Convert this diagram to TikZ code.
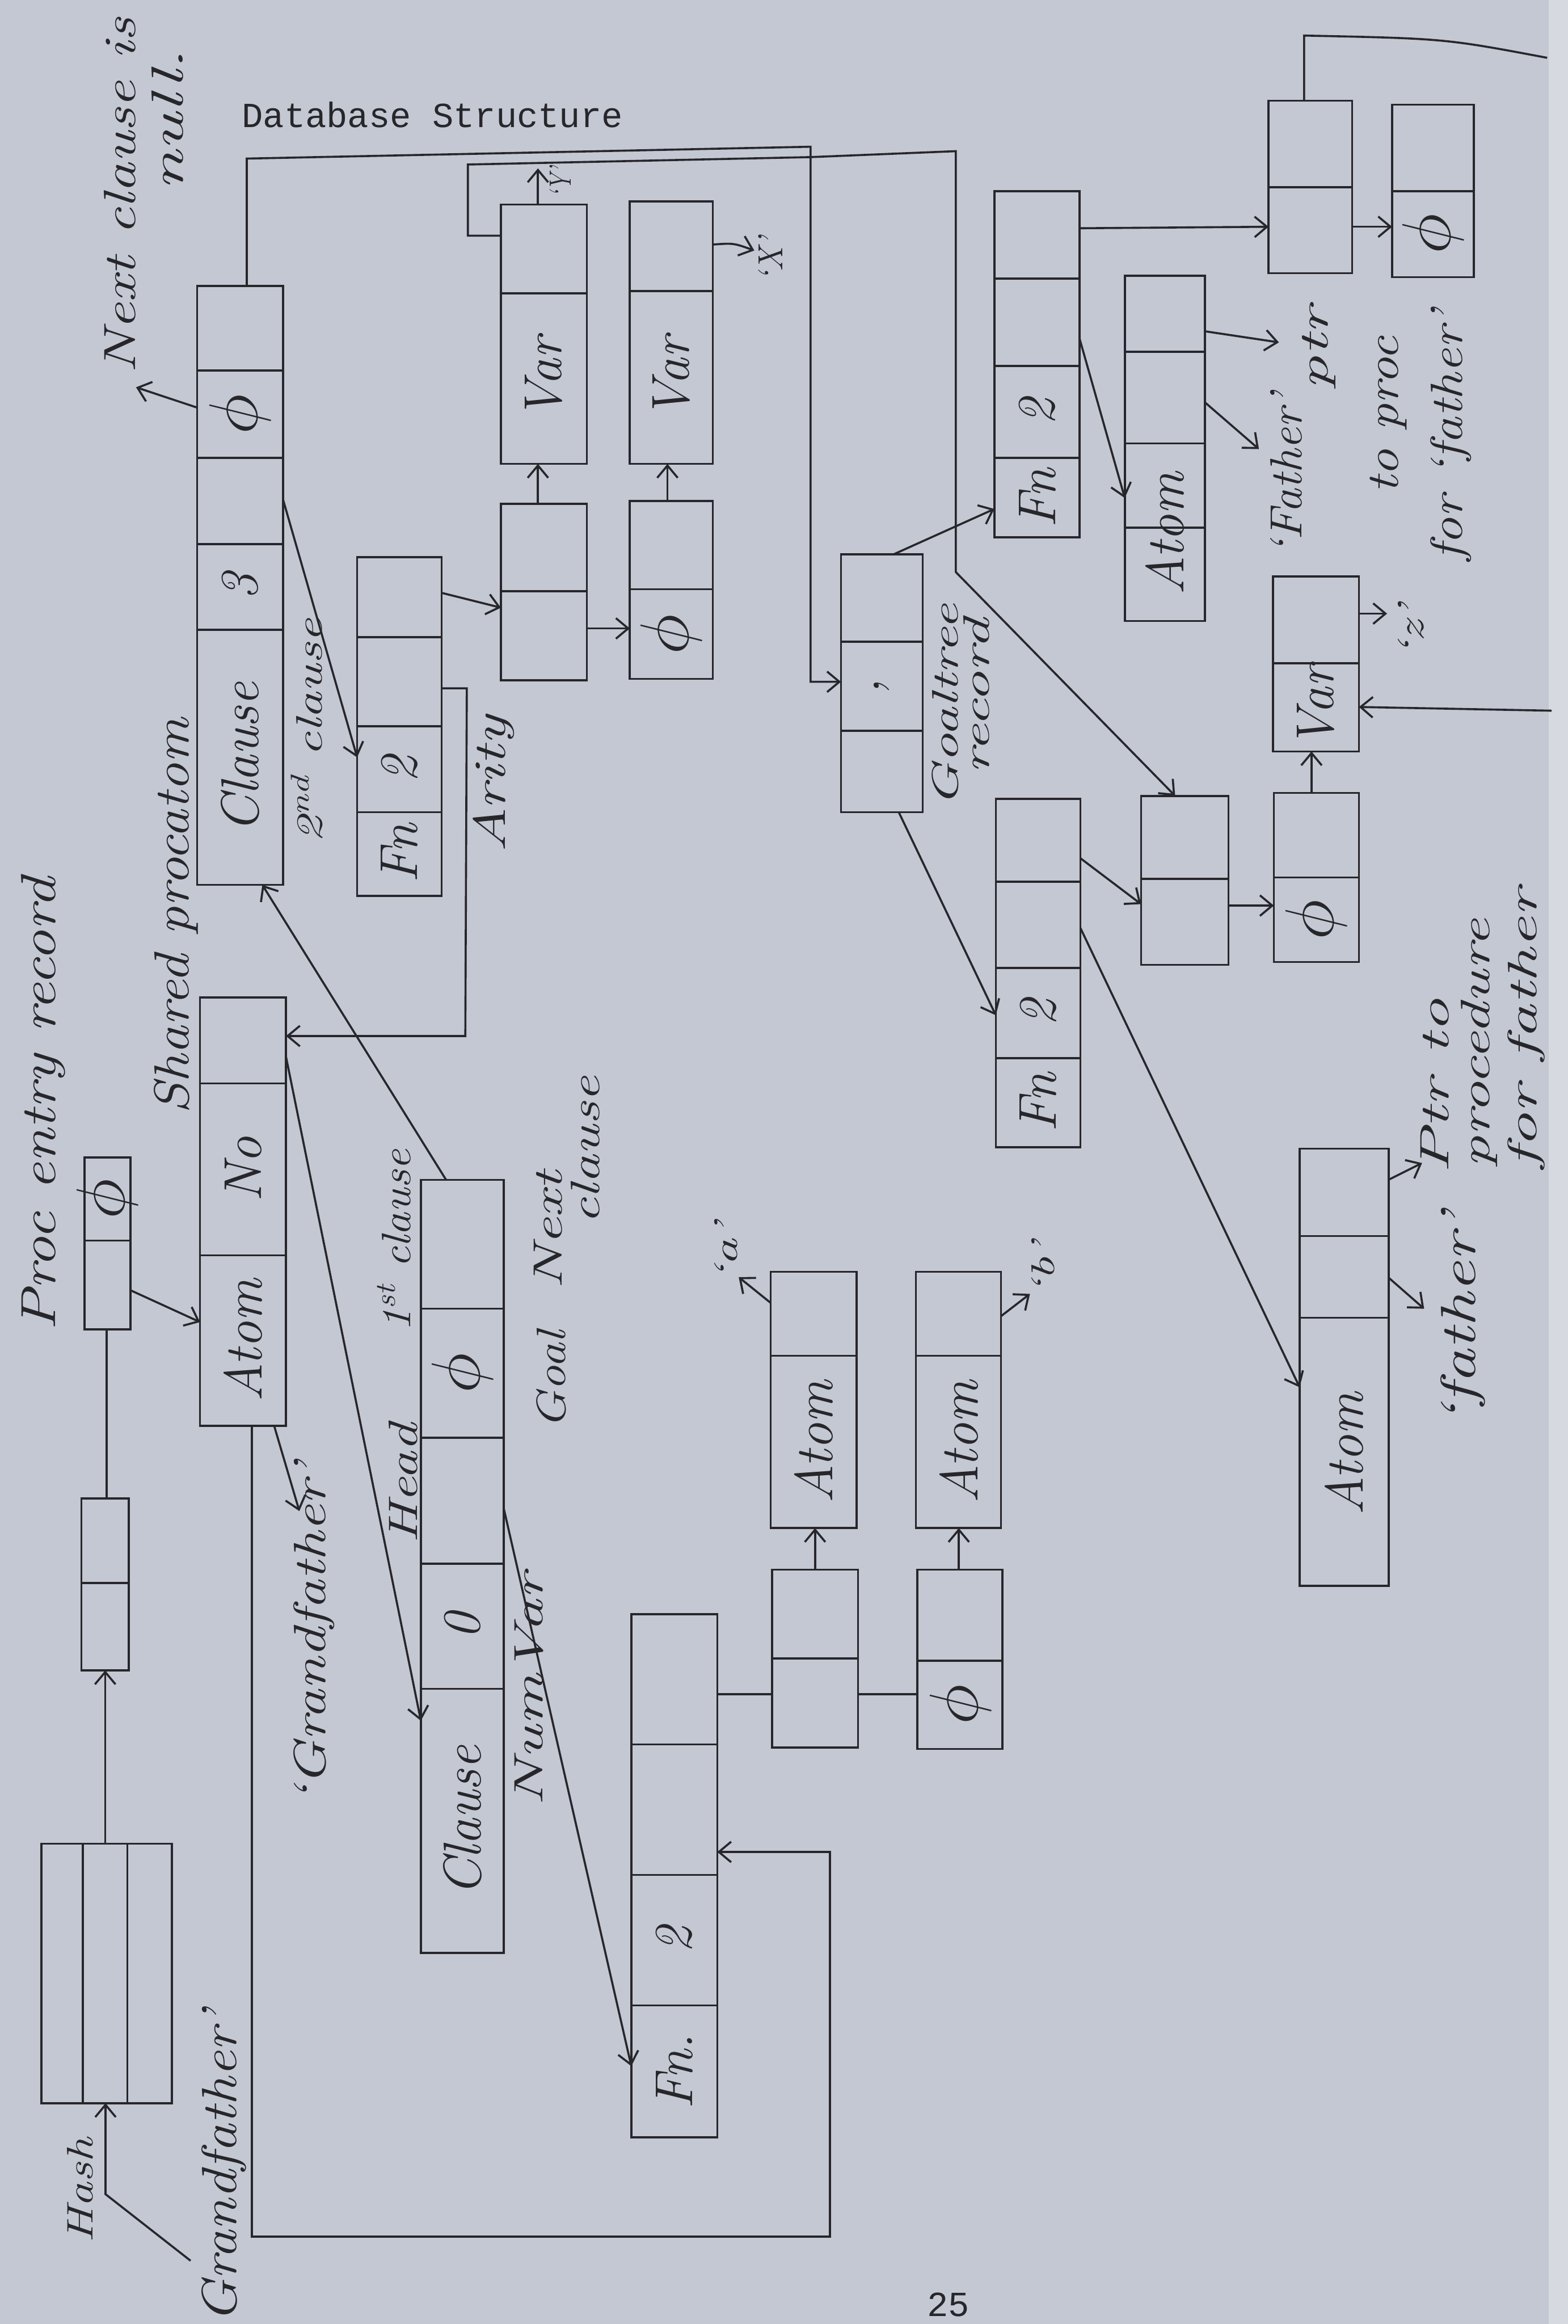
\documentclass[tikz,border=0pt]{standalone}
\usepackage{fontspec}
\setmonofont{Liberation Mono}
\usepackage{graphicx}
\usetikzlibrary{arrows.meta}
\definecolor{paper}{HTML}{C4C8D2}
\definecolor{edgepaper}{HTML}{D6D9DF}
\definecolor{ink}{HTML}{26262B}
\newlength\upx
\setlength\upx{0.0254cm}
% fixed font size (#1 pt), stretched to length #2 (in picture px)
\newcommand\fw[3][22]{{\fontsize{#1}{#1}\selectfont\resizebox{#2\upx}{\height}{\itshape #3}}}
\newcommand\ph{\scalebox{1.35}{$\phi$}}
\newcommand\rec[6]{%
  \node[box,anchor=north west,minimum width={(#4-(#2))*0.0254cm},minimum height={(#5-(#3))*0.0254cm}] (#1) at (#2,#3) {};
  \foreach \d in {#6}{\draw[ln] (#1.west |- 0,\d) -- (#1.east |- 0,\d);}%
}
\begin{document}
\begin{tikzpicture}[x=0.0254cm,y=-0.0254cm,
  ln/.style={draw=ink,line width=1pt},
  arr/.style={draw=ink,line width=1pt,-{Straight Barb[length=6pt,width=10pt,line width=1pt]}},
  box/.style={draw=ink,line width=1pt,inner sep=0pt,outer sep=0pt},
  cell/.style={rotate=90,text=ink,inner sep=0pt,font=\fontsize{26}{30}\selectfont\itshape},
  lab/.style={rotate=90,text=ink,inner sep=0pt},
  tt/.style={text=ink,inner sep=0pt,font=\fontsize{17.2}{20}\selectfont\ttfamily}]
\path[use as bounding box] (0,0) rectangle (1058,1568);
\fill[paper] (0,0) rectangle (1058,1568);
\fill[edgepaper] (1045,0) rectangle (1058,1568);

% ---------- records ----------
\node[box,anchor=north west,minimum width={88*0.0254cm},minimum height={175*0.0254cm}] (hash) at (28,1244) {};
\draw[ln] (hash.north -| 56,0) -- (hash.south -| 56,0);
\draw[ln] (hash.north -| 86,0) -- (hash.south -| 86,0);
\rec{pe2}{55}{1011}{87}{1127}{1068}
\rec{pe1}{57}{781}{88}{897}{837}
\rec{sp}{135}{673}{193}{962}{731,847}
\rec{cl2}{133}{193}{191}{597}{250,309,367,425}
\rec{fnA}{241}{376}{298}{604.5}{430,490,548}
\rec{pa}{338}{340}{396}{459}{399}
\rec{pphiA}{425}{338}{481}{458}{397.5}
\rec{varY}{338}{138}{396}{313}{198}
\rec{varX}{425}{136}{481}{313}{196.5}
\rec{cl1}{284}{796}{340}{1317.6}{883,970,1055,1139.5}
\rec{fnD}{426}{1089}{484}{1442}{1177,1265,1353}
\rec{pb}{521}{1059}{579}{1179}{1119}
\rec{atomA}{520}{858}{578}{1031}{914.7}
\rec{pphiB}{619}{1059}{676.5}{1180}{1120.5}
\rec{atomB}{618}{858}{675.5}{1031}{914.7}
\rec{gt}{567.5}{374}{622.6}{548}{433,493}
\rec{fnB}{671}{129}{728.5}{362.5}{188,247,309}
\rec{fnC}{672}{539}{729}{774}{595,653,714}
\rec{q}{770}{537}{829}{651}{593}
\rec{pphiC}{859.6}{535}{917}{649}{592}
\rec{varZ}{859}{389}{917}{507}{447.4}
\rec{r}{856}{68}{912.4}{184.3}{126.3}
\rec{s}{939.4}{70.7}{994.5}{187}{129}
\rec{atomF}{759}{186}{813}{419}{237.4,299.2,356}
\rec{atomL}{877}{775}{937}{1070}{834,889}

% ---------- cell texts ----------
\node[cell] (pe1t) at (72.5,809) {\ph};
\node[cell] (spno) at (164,789) {No};
\node[cell] (spat) at (164,904.5) {Atom};
\node[cell] (cl2p) at (162,279.5) {\ph};
\node[cell] (cl2n) at (162,396) {3};
\node[cell] (cl2c) at (162,511) {Clause};
\node[cell] (fnA2) at (269.5,519) {2};
\node[cell] (fnAf) at (269.5,576) {Fn};
\node[cell] (pphiAt) at (453,428) {\ph};
\node[cell] (varYt) at (367,255.5) {Var};
\node[cell] (varXt) at (453,255) {Var};
\node[cell] (cl1p) at (312,926.5) {\ph};
\node[cell] (cl1n) at (312,1097) {0};
\node[cell] (cl1c) at (312,1228.5) {Clause};
\node[cell] (fnD2) at (455,1309) {2};
\node[cell] (fnDf) at (455,1397.5) {Fn.};
\node[cell] (atomAt) at (549,973) {Atom};
\node[cell] (pphiBt) at (648,1150) {\ph};
\node[cell] (atomBt) at (647,973) {Atom};
\node[cell] (gtc) at (595,463) {,};
\node[cell] (fnB2) at (700,278) {2};
\node[cell] (fnBf) at (700,336) {Fn};
\node[cell] (fnC2) at (700.5,683.5) {2};
\node[cell] (fnCf) at (700.5,744) {Fn};
\node[cell] (pphiCt) at (888,620.5) {\ph};
\node[cell] (varZt) at (888,477) {Var};
\node[cell] (st) at (967,158) {\ph};
\node[cell] (atomFt) at (786,360) {Atom};
\node[cell] (atomLt) at (907,981) {Atom};

% ---------- free labels ----------
\node[tt,anchor=base west] (title) at (163,86) {Database Structure};
\node[tt] (pnum) at (640,1555) {25};
\node[lab] (lproc) at (29,745) {\fw[24]{306}{Proc entry record}};
\node[lab] (lnext1) at (81,132) {\fw[22]{240}{Next clause is}};
\node[lab] (lnext2) at (113,81) {\fw[22]{96}{null.}};
\node[lab] (lshared) at (119,618) {\fw[24]{267}{Shared procatom}};
\node[lab] (l2nd) at (207,493) {\fw[18]{151}{2\textsuperscript{nd} clause}};
\node[lab] (larity) at (333,529) {\fw[22]{92}{Arity}};
\node[lab] (lgf1) at (212,1102) {\fw[22]{230}{`Grandfather'}};
\node[lab] (lhead) at (272,1001) {\fw[20]{81}{Head}};
\node[lab] (l1st) at (266,837) {\fw[20]{123}{1\textsuperscript{st} clause}};
\node[lab] (lgoal) at (372,931) {\fw[20]{66}{Goal}};
\node[lab] (lnextc) at (370,830) {\fw[20]{80}{Next}};
\node[lab] (lclause) at (395,776) {\fw[20]{100}{clause}};
\node[lab] (lnumvar) at (357,1140) {\fw[20]{157}{NumVar}};
\node[lab] (la) at (490,845) {\fw[16]{40}{`a'}};
\node[lab] (lb) at (704,856) {\fw[16]{36}{`b'}};
\node[lab] (ly) at (378,123) {\fw[15]{21}{`Y'}};
\node[lab] (lx) at (520,175) {\fw[17]{30}{`X'}};
\node[lab] (lgt1) at (638,476) {\fw[18]{137}{Goaltree}};
\node[lab] (lgt2) at (659,470) {\fw[18]{105}{record}};
\node[lab] (lz) at (952,426) {\fw[18]{36}{`z'}};
\node[lab] (lptr) at (890,235) {\fw[20]{56}{ptr}};
\node[lab] (lFather) at (868,320) {\fw[22]{109}{`Father'}};
\node[lab] (ltoproc) at (937,280) {\fw[22]{106}{to proc}};
\node[lab] (lforfather) at (979,294) {\fw[22]{169}{for `father'}};
\node[lab] (lfatherL) at (987,890) {\fw[24]{144}{`father'}};
\node[lab] (lptrto) at (968,733) {\fw[20]{118}{Ptr to}};
\node[lab] (lproced) at (998,704) {\fw[20]{168}{procedure}};
\node[lab] (lforf) at (1030,694) {\fw[20]{189}{for father}};
\node[lab] (lgf2) at (151,1462) {\fw[24]{211}{Grandfather'}};
\node[lab] (lhash) at (54,1478) {\fw[18]{71}{Hash}};

% ---------- connectors ----------
\draw[arr] (hash.north -| 71,0) -- (pe2.south -| 71,0);
\draw[ln] (pe2.north -| 72,0) -- (pe1.south -| 72,0);
\draw[arr] (pe1.east |- 0,870.5) -- (sp.west |- 0,892);
\coordinate (hk) at (128.6,1525.3);
\draw[arr] (hk) -- (71.2,1480.4) -- (hash.south -| 71.2,0);
\draw[arr] (sp.south -| 170,0) -- (170,1509) -- (560,1509) -- (560,1249.5) -- (fnD.east |- 0,1249.5);
\coordinate (gfT) at (202,1019.5);
\draw[arr] (sp.south -| 185,0) -- (gfT);
\draw[arr] (fnA.east |- 0,464.4) -- (315,464.4) -- (314,699) -- (sp.east |- 0,699);
\draw[arr] (sp.east |- 0,713) -- (cl1.west |- 0,1161);
\draw[arr] (cl1.north -| 301,0) -- (cl2.south -| 177,0);
\draw[arr] (cl2.east |- 0,337) -- (fnA.west |- 0,511);
\coordinate (nullT) at (91.8,261.3);
\draw[arr] (cl2.west |- 0,275) -- (nullT);
\draw[arr] (cl1.east |- 0,1018) -- (fnD.west |- 0,1394);
\draw[ln] (fnD.east |- 0,1143) -- (pb.west |- 0,1143);
\draw[arr] (pb.north -| 550,0) -- (atomA.south -| 550,0);
\coordinate (aT) at (498.5,861.7);
\draw[arr] (atomA.west |- 0,879) -- (aT);
\draw[ln] (pb.east |- 0,1143) -- (pphiB.west |- 0,1143);
\draw[arr] (pphiB.north -| 647,0) -- (atomB.south -| 647,0);
\coordinate (bT) at (695,873);
\draw[arr] (atomB.east |- 0,888) -- (bT);
\draw[arr] (fnA.east |- 0,400) -- (pa.west |- 0,410);
\draw[arr] (pa.north -| 363,0) -- (varY.south -| 363,0);
\draw[arr] (pa.east |- 0,424) -- (pphiA.west |- 0,424);
\draw[arr] (pphiA.north -| 450.4,0) -- (varX.south -| 450.4,0);
\coordinate (yT) at (363,113.6);
\draw[arr] (varY.north -| 363,0) -- (yT);
\coordinate (xT) at (509,169);
\draw[arr] (varX.east |- 0,165) .. controls (495,164) .. (xT);
\draw[arr] (cl2.north -| 166.5,0) -- (166.5,107) -- (547,99) -- (547,460) -- (gt.west |- 0,460);
\draw[arr] (varY.west |- 0,159) -- (315.7,159) -- (315.7,111) -- (547,106) -- (645,102) -- (645,386) -- (q.north -| 793,0);
\draw[arr] (gt.north -| 603,0) -- (fnB.west |- 0,343.4);
\draw[arr] (gt.south -| 606.5,0) -- (fnC.west |- 0,685);
\draw[arr] (fnB.east |- 0,154) -- (r.west |- 0,153);
\draw[arr] (r.east |- 0,153) -- (s.west |- 0,153);
\draw[arr] (fnB.east |- 0,228.5) -- (atomF.west |- 0,336);
\coordinate (ptrT) at (863,231);
\draw[arr] (atomF.east |- 0,223.5) -- (ptrT);
\coordinate (fT) at (849.5,303);
\draw[arr] (atomF.east |- 0,271.4) -- (fT);
\draw[arr] (fnC.east |- 0,579) -- (q.west |- 0,610);
\draw[arr] (q.east |- 0,611) -- (pphiC.west |- 0,611);
\draw[arr] (pphiC.north -| 885,0) -- (varZ.south -| 885,0);
\coordinate (zT) at (936,414);
\draw[arr] (varZ.east |- 0,414) -- (zT);
\coordinate (edgeIn) at (1047,479.5);
\draw[arr] (edgeIn) -- (varZ.east |- 0,477);
\coordinate (edgeOut) at (1044,39);
\draw[ln] (r.north -| 880,0) -- (880,24) .. controls (975,26) .. (edgeOut);
\draw[arr] (fnC.east |- 0,626) -- (atomL.west |- 0,936);
\coordinate (ptrL) at (959.6,784.7);
\draw[arr] (atomL.east |- 0,796) -- (ptrL);
\coordinate (fatherL) at (961,883);
\draw[arr] (atomL.east |- 0,862) -- (fatherL);
\end{tikzpicture}
\end{document}
